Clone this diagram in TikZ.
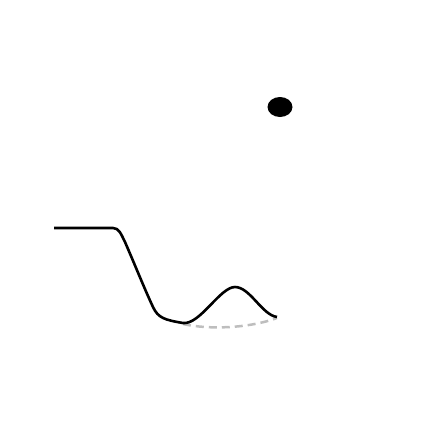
\documentclass[tikz,border=0pt]{standalone}
\usepackage{xcolor}
\usetikzlibrary{math}
\definecolor{mygray}{RGB}{190,190,190}

\begin{document}
\begin{tikzpicture}[x=1pt,y=-1pt]
\tikzmath{
\rx=12.5;
\ry=10;
}
\useasboundingbox (0,0) rectangle (432,432);

\fill (280,107) circle (\rx pt and \ry pt);

\draw[line width=2.5pt, dash pattern=on 8pt off 5pt, color=mygray] (183,324) .. controls (210,330) and (250,328) .. (277,318);

\draw[line width=2.6pt, line join=round] (54,228) -- (113,228)
  .. controls (119,228) and (121,234) .. (125,242)
  .. controls (135,265) and (145,290) .. (153,307)
  .. controls (158,318) and (165,320) .. (183,323)
  .. controls (200,325) and (220,287) .. (235,287)
  .. controls (250,287) and (262,315) .. (277,317);
\end{tikzpicture}
\end{document}
